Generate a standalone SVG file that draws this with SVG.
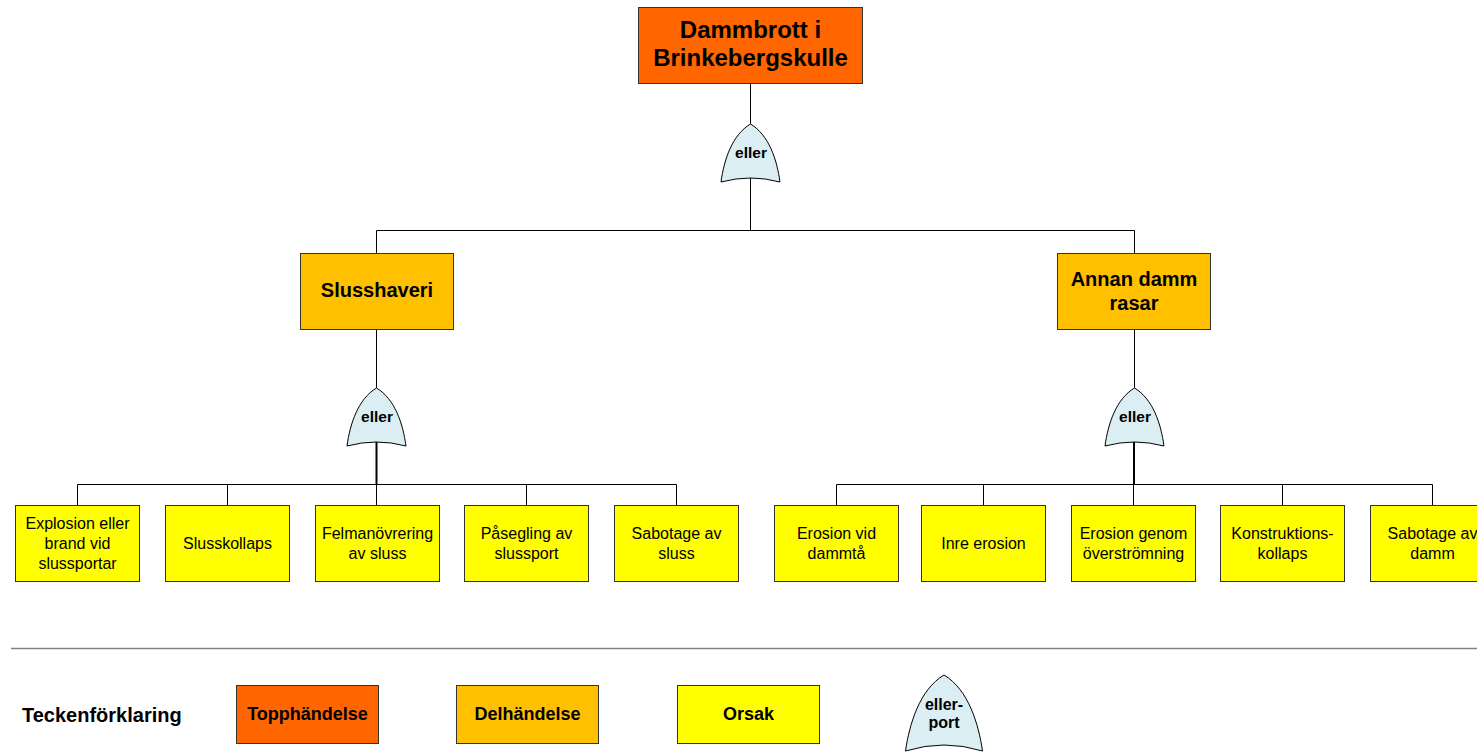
<svg xmlns="http://www.w3.org/2000/svg" width="1477" height="753" viewBox="0 0 1477 753">
<style>
text{font-family:"Liberation Sans",Arial,Helvetica,sans-serif;fill:#000;text-anchor:middle}
.top{fill:#FF6600;stroke:#333;stroke-width:1}
.sub{fill:#FFC000;stroke:#333;stroke-width:1}
.leaf{fill:#FFFF00;stroke:#333;stroke-width:1}
.gate{fill:#DAEEF3;stroke:#000;stroke-width:1}
.t24{font-size:24px;font-weight:bold}
.t20{font-size:20px;font-weight:bold}
.t16{font-size:16px}
.g{font-size:15.5px;font-weight:bold}
.lg{font-size:18px;font-weight:bold}
.conn line{stroke:#000;stroke-width:1;fill:none}
.conn .thick{stroke-width:2}
</style>
<defs>
<path id="gateShape" d="M-29.5,58 C-26.5,36 -18.5,11 0,0 C18.5,11 26.5,36 29.5,58 Q0,50 -29.5,58 Z"/>
</defs>
<rect width="1477" height="753" fill="#fff"/>

<g id="connectors" class="conn">
<line x1="750.5" y1="83" x2="750.5" y2="124"/>
<line x1="750.5" y1="178" x2="750.5" y2="230.5"/>
<line x1="376.5" y1="230.5" x2="1134.5" y2="230.5"/>
<line x1="376.5" y1="230.5" x2="376.5" y2="253"/>
<line x1="1134.5" y1="230.5" x2="1134.5" y2="253"/>
<line x1="376.5" y1="329" x2="376.5" y2="388"/>
<line x1="1134.5" y1="329" x2="1134.5" y2="388"/>
<line class="thick" x1="376.5" y1="442" x2="376.5" y2="484.5"/>
<line class="thick" x1="1134" y1="442" x2="1134" y2="484.5"/>
<line x1="77.5" y1="484.5" x2="676.5" y2="484.5"/>
<line x1="77.5" y1="484.5" x2="77.5" y2="505"/>
<line x1="227.5" y1="484.5" x2="227.5" y2="505"/>
<line x1="376.5" y1="484.5" x2="376.5" y2="505"/>
<line x1="526.5" y1="484.5" x2="526.5" y2="505"/>
<line x1="676.5" y1="484.5" x2="676.5" y2="505"/>
<line x1="836.5" y1="484.5" x2="1432.5" y2="484.5"/>
<line x1="836.5" y1="484.5" x2="836.5" y2="505"/>
<line x1="983.5" y1="484.5" x2="983.5" y2="505"/>
<line x1="1133.5" y1="484.5" x2="1133.5" y2="505"/>
<line x1="1282.5" y1="484.5" x2="1282.5" y2="505"/>
<line x1="1432.5" y1="484.5" x2="1432.5" y2="505"/>
</g>

<g id="top-event">
<rect class="top" x="638.5" y="7.5" width="224" height="76"/>
<text class="t24" x="750.5" y="37.5">Dammbrott i</text>
<text class="t24" x="750.5" y="65.5">Brinkebergskulle</text>
</g>

<g id="gate-top">
<use href="#gateShape" class="gate" transform="translate(750.5,124)"/>
<text class="g" x="751" y="157.5">eller</text>
</g>

<g id="slusshaveri">
<rect class="sub" x="300.5" y="253.5" width="153" height="76"/>
<text class="t20" x="377" y="297">Slusshaveri</text>
</g>

<g id="annan-damm">
<rect class="sub" x="1057.5" y="253.5" width="153" height="76"/>
<text class="t20" x="1134" y="285.5">Annan damm</text>
<text class="t20" x="1134" y="309.5">rasar</text>
</g>

<g id="gate-sluss">
<use href="#gateShape" class="gate" transform="translate(376.5,388)"/>
<text class="g" x="377" y="421.5">eller</text>
</g>

<g id="gate-damm">
<use href="#gateShape" class="gate" transform="translate(1134.5,388)"/>
<text class="g" x="1135" y="421.5">eller</text>
</g>

<g id="leaf-explosion">
<rect class="leaf" x="15.5" y="505.5" width="124" height="76"/>
<text class="t16" x="77.5" y="528.5">Explosion eller</text>
<text class="t16" x="77.5" y="548.5">brand vid</text>
<text class="t16" x="77.5" y="568.5">slussportar</text>
</g>
<g id="leaf-slusskollaps">
<rect class="leaf" x="165.5" y="505.5" width="124" height="76"/>
<text class="t16" x="227.5" y="548.5">Slusskollaps</text>
</g>
<g id="leaf-felmanovrering">
<rect class="leaf" x="315.5" y="505.5" width="124" height="76"/>
<text class="t16" x="377.5" y="538.5">Felmanövrering</text>
<text class="t16" x="377.5" y="558.5">av sluss</text>
</g>
<g id="leaf-pasegling">
<rect class="leaf" x="464.5" y="505.5" width="124" height="76"/>
<text class="t16" x="526.5" y="538.5">Påsegling av</text>
<text class="t16" x="526.5" y="558.5">slussport</text>
</g>
<g id="leaf-sabotage-sluss">
<rect class="leaf" x="614.5" y="505.5" width="124" height="76"/>
<text class="t16" x="676.5" y="538.5">Sabotage av</text>
<text class="t16" x="676.5" y="558.5">sluss</text>
</g>

<g id="leaf-erosion-damm">
<rect class="leaf" x="774.5" y="505.5" width="124" height="76"/>
<text class="t16" x="836.5" y="538.5">Erosion vid</text>
<text class="t16" x="836.5" y="558.5">dammtå</text>
</g>
<g id="leaf-inre-erosion">
<rect class="leaf" x="921.5" y="505.5" width="124" height="76"/>
<text class="t16" x="983.5" y="548.5">Inre erosion</text>
</g>
<g id="leaf-erosion-overstromning">
<rect class="leaf" x="1071.5" y="505.5" width="124" height="76"/>
<text class="t16" x="1133.5" y="538.5">Erosion genom</text>
<text class="t16" x="1133.5" y="558.5">överströmning</text>
</g>
<g id="leaf-konstruktion">
<rect class="leaf" x="1220.5" y="505.5" width="124" height="76"/>
<text class="t16" x="1282.5" y="538.5">Konstruktions-</text>
<text class="t16" x="1282.5" y="558.5">kollaps</text>
</g>
<g id="leaf-sabotage-damm">
<rect class="leaf" x="1370.5" y="505.5" width="124" height="76"/>
<text class="t16" x="1432.5" y="538.5">Sabotage av</text>
<text class="t16" x="1432.5" y="558.5">damm</text>
</g>

<g id="legend">
<line x1="11" y1="648.5" x2="1477" y2="648.5" stroke="#808080" stroke-width="1.5"/>
<text x="22" y="721.5" style="font-size:20px;font-weight:bold;text-anchor:start">Teckenförklaring</text>
<rect class="top" x="236.5" y="685.5" width="142" height="58"/>
<text class="lg" x="307.5" y="720">Topphändelse</text>
<rect class="sub" x="456.5" y="685.5" width="142" height="58"/>
<text class="lg" x="527.5" y="720">Delhändelse</text>
<rect class="leaf" x="677.5" y="685.5" width="142" height="58"/>
<text class="lg" x="748.5" y="720">Orsak</text>
<path class="gate" d="M905.5,751 C909.4,724 919.7,689.4 944,675 C968.3,689.4 978.6,724 982.5,751 Q944,739 905.5,751 Z"/>
<text class="g" x="944" y="709.5" style="font-size:16px">eller-</text>
<text class="g" x="944" y="728" style="font-size:16px">port</text>
</g>
</svg>
